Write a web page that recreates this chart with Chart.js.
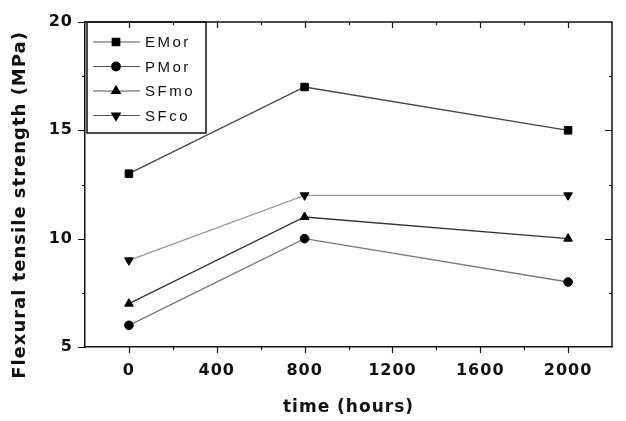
<!DOCTYPE html>
<html>
<head>
<meta charset="utf-8">
<script src="https://cdn.jsdelivr.net/npm/chart.js@4/dist/chart.umd.min.js"></script>
<style>
  html, body { margin: 0; padding: 0; background: #fff; }
</style>
</head>
<body>
<canvas id="flexChart" width="626" height="421"></canvas>
<script>
// time in hours
const hours = [0, 800, 2000];
// flexural tensile strength (MPa)
const eMor = [13, 17, 15];
const pMor = [6, 10, 8];
const sFmo = [7, 11, 10];
const sFco = [9, 12, 12];
const seriesNames = ['EMor', 'PMor', 'SFmo', 'SFco'];
const xTickLabels = [0, 400, 800, 1200, 1600, 2000];
const yTickLabels = [5, 10, 15, 20];
const yTitle = 'Flexural tensile strength (MPa)';
const xTitle = 'time (hours)';

Chart.defaults.font.family = 'DejaVu Sans';
Chart.defaults.color = '#111';

const toPoints = (vals) => hours.map((h, i) => ({ x: h, y: vals[i] }));

const mkSeries = (label, vals, color, style, rot, r) => ({
  label: label,
  data: toPoints(vals),
  borderColor: color,
  borderWidth: 1.3,
  pointStyle: style,
  rotation: rot,
  pointRadius: r,
  pointBackgroundColor: '#000',
  pointBorderColor: '#000',
  pointBorderWidth: 1,
  clip: false,
});

const frame = {
  id: 'frame',
  beforeDraw(chart) {
    chart.ctx.letterSpacing = '1px';
  },
  afterDraw(chart) {
    const { ctx, chartArea: a } = chart;
    const x = chart.scales.x, y = chart.scales.y;
    ctx.save();
    ctx.strokeStyle = '#111';
    ctx.lineWidth = 1.5;
    ctx.beginPath();
    ctx.moveTo(a.left, a.top);
    ctx.lineTo(a.right, a.top);
    ctx.lineTo(a.right, a.bottom);
    ctx.stroke();

    // tick marks: outward on bottom/left, inward on top/right
    ctx.lineWidth = 1.2;
    ctx.beginPath();
    x.ticks.forEach(t => {
      if (t.value <= x.min || t.value >= x.max) return;
      const px = Math.round(x.getPixelForValue(t.value)) + 0.5;
      const len = xTickLabels.includes(t.value) ? 6 : 3;
      ctx.moveTo(px, a.bottom); ctx.lineTo(px, a.bottom + len);
      ctx.moveTo(px, a.top); ctx.lineTo(px, a.top + len);
    });
    y.ticks.forEach(t => {
      const py = Math.round(y.getPixelForValue(t.value)) + 0.5;
      const major = yTickLabels.includes(t.value);
      const len = major ? 7 : 3;
      ctx.moveTo(a.left, py); ctx.lineTo(a.left - len, py);
      if (t.value > y.min && t.value < y.max) {
        ctx.moveTo(a.right, py); ctx.lineTo(a.right - len, py);
      }
    });
    ctx.stroke();

    // y axis title
    ctx.save();
    ctx.translate(20, 205);
    ctx.rotate(-Math.PI / 2);
    ctx.font = 'bold 18px "DejaVu Sans"';
    ctx.fillStyle = '#111';
    ctx.textAlign = 'center';
    ctx.textBaseline = 'middle';
    ctx.letterSpacing = '1px';
    ctx.fillText(yTitle, 0, 0);
    ctx.restore();

    // legend box inside plot, top left
    const bx = a.left + 2, by = a.top, bw = 119, bh = 111;
    ctx.lineWidth = 1.5;
    ctx.strokeStyle = '#111';
    ctx.strokeRect(bx, by, bw, bh);
    ctx.font = '15px "Liberation Sans"';
    ctx.letterSpacing = '2.5px';
    ctx.textAlign = 'left';
    ctx.textBaseline = 'middle';
    chart.data.datasets.forEach((ds, i) => {
      const ly = by + 20 + i * 24.5;
      ctx.strokeStyle = '#555';
      ctx.lineWidth = 1.2;
      ctx.beginPath();
      ctx.moveTo(bx + 6, ly); ctx.lineTo(bx + 53, ly);
      ctx.stroke();
      ctx.fillStyle = '#000';
      ctx.strokeStyle = '#000';
      Chart.helpers.drawPoint(ctx, {
        pointStyle: ds.pointStyle,
        radius: ds.pointRadius,
        rotation: ds.rotation,
        borderWidth: 1,
      }, bx + 29, ly);
      ctx.fillStyle = '#111';
      ctx.fillText(ds.label, bx + 58, ly + 1);
    });
    ctx.restore();
  }
};

new Chart(document.getElementById('flexChart'), {
  type: 'line',
  data: {
    datasets: [
      mkSeries(seriesNames[0], eMor, '#444', 'rect', 0, 5.3),
      mkSeries(seriesNames[1], pMor, '#777', 'circle', 0, 4.3),
      mkSeries(seriesNames[2], sFmo, '#333', 'triangle', 0, 5),
      mkSeries(seriesNames[3], sFco, '#999', 'triangle', 180, 5),
    ]
  },
  options: {
    responsive: false,
    animation: false,
    layout: { padding: { top: 22, right: 1, left: 0, bottom: 0 } },
    plugins: {
      legend: { display: false },
      tooltip: { enabled: false },
    },
    scales: {
      x: {
        type: 'linear',
        min: -200,
        max: 2200,
        afterFit: (s) => { s.height = 74; },
        grid: { display: true, drawOnChartArea: false, drawTicks: false },
        border: { display: true, color: '#111', width: 1.5 },
        ticks: {
          stepSize: 200,
          padding: 14,
          maxRotation: 0,
          autoSkip: false,
          font: { size: 16, weight: 'bold' },
          callback: (v) => xTickLabels.includes(v) ? String(v) : '',
        },
        title: {
          display: true,
          text: xTitle,
          font: { size: 17, weight: 'bold' },
          padding: { top: 0, bottom: 3 },
        },
      },
      y: {
        min: 5,
        max: 20,
        afterFit: (s) => { s.width = 85; },
        grid: { display: true, drawOnChartArea: false, drawTicks: false },
        border: { display: true, color: '#111', width: 1.5 },
        ticks: {
          stepSize: 2.5,
          padding: 12,
          autoSkip: false,
          font: { size: 16, weight: 'bold' },
          callback: (v) => yTickLabels.includes(v) ? String(v) : '',
        },
      },
    },
  },
  plugins: [frame],
});
</script>
</body>
</html>
